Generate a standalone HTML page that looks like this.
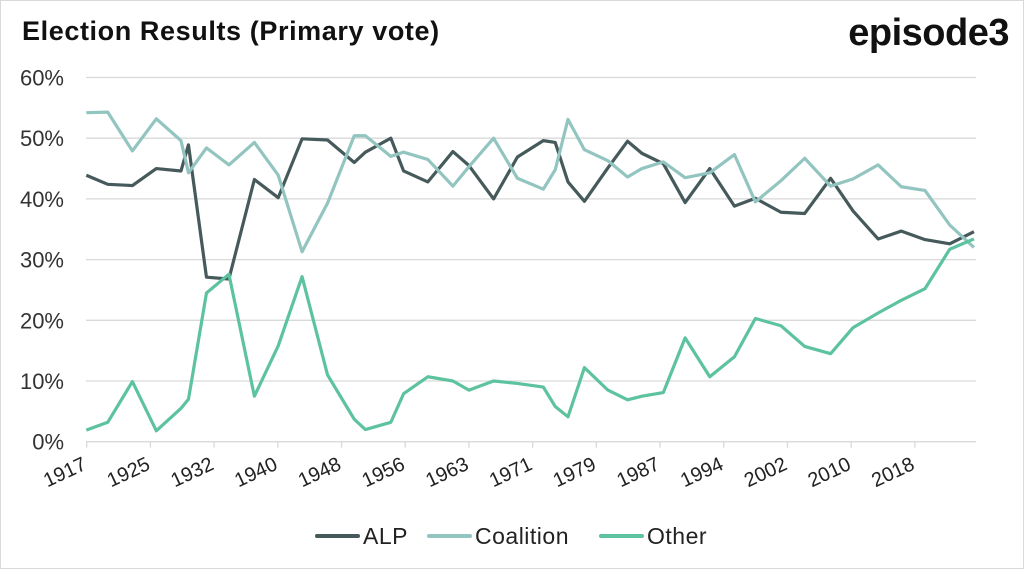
<!DOCTYPE html>
<html><head><meta charset="utf-8"><style>
html,body{margin:0;padding:0;background:#fff}
#wrap{position:relative;width:1022px;height:567px;border:1px solid #d9d9d9;overflow:hidden;font-family:"Liberation Sans",sans-serif}
#title{position:absolute;left:21px;top:15px;font-size:27px;font-weight:bold;color:#111;letter-spacing:0.6px}
#logo{position:absolute;right:14px;top:11px;font-size:38px;font-weight:bold;color:#111;letter-spacing:-0.5px}
</style></head><body>
<div id="wrap">
<div id="title">Election Results (Primary vote)</div>
<div id="logo">episode3</div>
<svg id="chart" width="1022" height="567" style="position:absolute;left:0;top:0"></svg>
</div>
<script>
const years=[1917.35,1919.96,1922.96,1925.87,1928.87,1929.78,1931.97,1934.7,1937.8,1940.7,1943.6,1946.7,1949.95,1951.3,1954.4,1955.95,1958.9,1961.95,1963.9,1966.9,1969.8,1972.95,1974.4,1975.95,1977.95,1980.8,1983.2,1984.95,1987.55,1990.2,1993.2,1996.2,1998.75,2001.86,2004.75,2007.9,2010.64,2013.68,2016.5,2019.38,2022.39,2025.34];
const alp=[43.9,42.4,42.2,45.0,44.6,48.9,27.1,26.8,43.2,40.2,49.9,49.7,46.0,47.7,50.0,44.6,42.8,47.8,45.5,40.0,46.9,49.6,49.3,42.8,39.6,45.1,49.5,47.5,45.8,39.4,45.0,38.8,40.1,37.8,37.6,43.4,38.0,33.4,34.7,33.3,32.6,34.6];
const coalition=[54.2,54.3,47.9,53.2,49.6,44.3,48.4,45.6,49.3,43.9,31.3,39.3,50.4,50.4,47.0,47.7,46.5,42.1,45.3,50.0,43.4,41.6,44.8,53.1,48.1,46.3,43.6,45.0,46.1,43.5,44.3,47.3,39.5,43.0,46.7,42.1,43.3,45.6,42.0,41.4,35.7,32.0];
const other=[1.9,3.2,9.9,1.8,5.5,7.0,24.5,27.6,7.5,15.8,27.2,11.0,3.7,2.0,3.2,7.9,10.7,10.0,8.5,10.0,9.6,9.0,5.8,4.1,12.2,8.5,6.9,7.5,8.1,17.1,10.7,14.0,20.3,19.1,15.7,14.5,18.8,21.2,23.3,25.2,31.7,33.4];
const yTicks=[0,10,20,30,40,50,60];
const xTickLabels=["1917","1925","1932","1940","1948","1956","1963","1971","1979","1987","1994","2002","2010","2018"];
const xTickStep=7.75;

const NS="http://www.w3.org/2000/svg";
const svg=document.getElementById('chart');
const X=t=>85.7+(t-1917.4)*8.22;
const Y=v=>440.7-v*6.07;
function mk(tag,attrs,parent){const e=document.createElementNS(NS,tag);for(const k in attrs)e.setAttribute(k,attrs[k]);(parent||svg).appendChild(e);return e;}
yTicks.forEach(v=>{
  if(v>0){const g=mk('line',{x1:85,x2:975,y1:Y(v),y2:Y(v),stroke:'#d9d9d9','stroke-width':1.3});
  
  }
  const t=mk('text',{x:63,y:Y(v)+8,'text-anchor':'end','font-size':22,fill:'#333','font-family':'Liberation Sans, sans-serif'});
  t.textContent=v+'%';
  
  
});
const ax=mk('line',{x1:85,x2:975,y1:Y(0),y2:Y(0),stroke:'#d9d9d9','stroke-width':1.3});


xTickLabels.forEach((lab,i)=>{
  const x=X(1917.4+i*xTickStep);
  const tk=mk('line',{x1:x,x2:x,y1:Y(0),y2:Y(0)+6,stroke:'#d9d9d9','stroke-width':1.3});
  
  
  const t=mk('text',{x:x+1,y:Y(0)+27,'text-anchor':'end','font-size':20,fill:'#222',transform:`rotate(-25 ${x+1} ${Y(0)+27})`,'font-family':'Liberation Sans, sans-serif'});
  t.textContent=lab;
  
  
});
const series=[{name:'ALP',data:alp,color:'#465a5b'},{name:'Coalition',data:coalition,color:'#93c5c0'},{name:'Other',data:other,color:'#5cc39e'}];
series.forEach(s=>{
  const p=mk('polyline',{points:s.data.map((v,i)=>X(years[i])+','+Y(v)).join(' '),fill:'none',stroke:s.color,'stroke-width':3.2,'stroke-linejoin':'round'});
  
  
});
const legX=[316,428,600];
series.forEach((s,i)=>{
  const g=mk('g',{});
  
  
  mk('line',{x1:legX[i],x2:legX[i]+41,y1:535,y2:535,stroke:s.color,'stroke-width':4,'stroke-linecap':'round'},g);
  const t=mk('text',{x:legX[i]+46,y:543,'font-size':23,fill:'#222','font-family':'Liberation Sans, sans-serif','letter-spacing':'0.5'},g);
  t.textContent=s.name;
});
</script>
</body></html>
